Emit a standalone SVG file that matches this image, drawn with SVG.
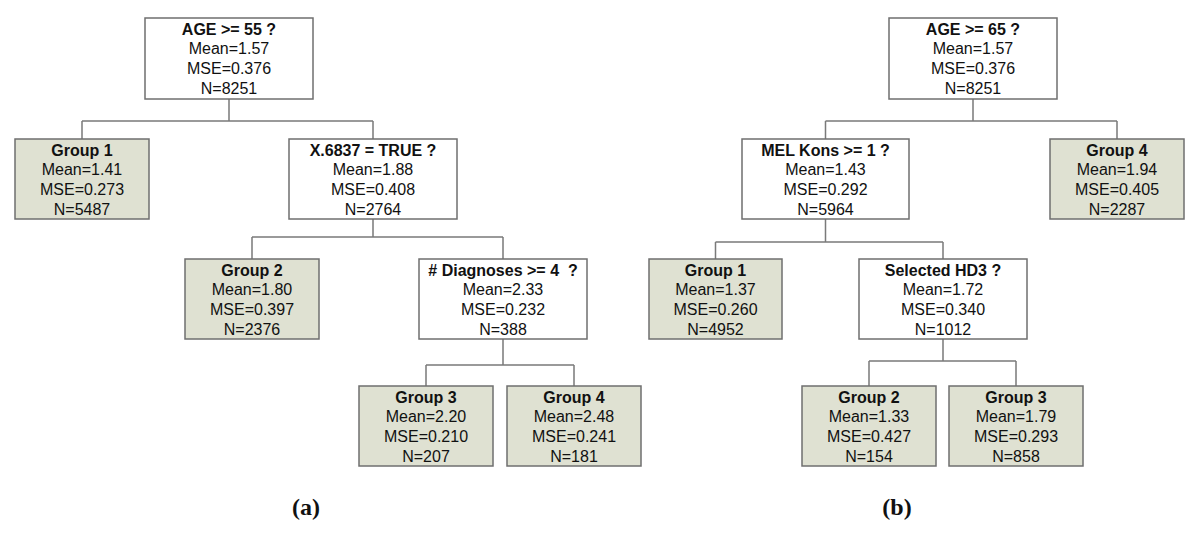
<svg xmlns="http://www.w3.org/2000/svg" width="1200" height="536" viewBox="0 0 1200 536">
<style>
  .box { fill: #ffffff; stroke: #6f6f6f; stroke-width: 1.5; }
  .leaf { fill: #dfe1d2; stroke: #6f6f6f; stroke-width: 1.5; }
  .conn { fill: none; stroke: #7a7a7a; stroke-width: 1.5; }
  text { font-family: "Liberation Sans", Arial, sans-serif; font-size: 16px; fill: #111111; text-anchor: middle; }
  .t { font-weight: bold; }
  .cap { font-family: "Liberation Serif", "Times New Roman", serif; font-size: 24px; font-weight: bold; }
</style>
<rect width="1200" height="536" fill="#ffffff"/>
<g id="connectors">
  <path class="conn" d="M229,99 V121 M82,121 H373 M82,121 V139 M373,121 V139"/>
  <path class="conn" d="M373,219 V237 M252,237 H503 M252,237 V259 M503,237 V259"/>
  <path class="conn" d="M503,339 V365 M426,365 H574 M426,365 V386 M574,365 V386"/>
  <path class="conn" d="M973,99 V121 M825.5,121 H1117 M825.5,121 V139 M1117,121 V139"/>
  <path class="conn" d="M825.5,219 V242 M715.5,242 H943 M715.5,242 V259 M943,242 V259"/>
  <path class="conn" d="M943,339 V361 M869,361 H1016 M869,361 V386 M1016,361 V386"/>
</g>
<g id="a-root">
  <rect class="box" x="145" y="18" width="168" height="81"/>
  <text class="t" x="229" y="34.5">AGE &gt;= 55 ?</text>
  <text x="229" y="54.3">Mean=1.57</text>
  <text x="229" y="74">MSE=0.376</text>
  <text x="229" y="93.8">N=8251</text>
</g>
<g id="a-group1">
  <rect class="leaf" x="15" y="139" width="134" height="80"/>
  <text class="t" x="82" y="155.5">Group 1</text>
  <text x="82" y="175.3">Mean=1.41</text>
  <text x="82" y="195">MSE=0.273</text>
  <text x="82" y="214.8">N=5487</text>
</g>
<g id="a-x6837">
  <rect class="box" x="289" y="139" width="168" height="80"/>
  <text class="t" x="373" y="155.5">X.6837 = TRUE ?</text>
  <text x="373" y="175.3">Mean=1.88</text>
  <text x="373" y="195">MSE=0.408</text>
  <text x="373" y="214.8">N=2764</text>
</g>
<g id="a-group2">
  <rect class="leaf" x="185" y="259" width="134" height="80"/>
  <text class="t" x="252" y="275.5">Group 2</text>
  <text x="252" y="295.3">Mean=1.80</text>
  <text x="252" y="315">MSE=0.397</text>
  <text x="252" y="334.8">N=2376</text>
</g>
<g id="a-diagnoses">
  <rect class="box" x="419" y="259" width="168" height="80"/>
  <text class="t" x="503" y="275.5" xml:space="preserve"># Diagnoses &gt;= 4  ?</text>
  <text x="503" y="295.3">Mean=2.33</text>
  <text x="503" y="315">MSE=0.232</text>
  <text x="503" y="334.8">N=388</text>
</g>
<g id="a-group3">
  <rect class="leaf" x="359" y="386" width="134" height="80"/>
  <text class="t" x="426" y="402.5">Group 3</text>
  <text x="426" y="422.3">Mean=2.20</text>
  <text x="426" y="442">MSE=0.210</text>
  <text x="426" y="461.8">N=207</text>
</g>
<g id="a-group4">
  <rect class="leaf" x="507" y="386" width="134" height="80"/>
  <text class="t" x="574" y="402.5">Group 4</text>
  <text x="574" y="422.3">Mean=2.48</text>
  <text x="574" y="442">MSE=0.241</text>
  <text x="574" y="461.8">N=181</text>
</g>
<g id="b-root">
  <rect class="box" x="889" y="18" width="168" height="81"/>
  <text class="t" x="973" y="34.5">AGE &gt;= 65 ?</text>
  <text x="973" y="54.3">Mean=1.57</text>
  <text x="973" y="74">MSE=0.376</text>
  <text x="973" y="93.8">N=8251</text>
</g>
<g id="b-melkons">
  <rect class="box" x="742" y="139" width="167" height="80"/>
  <text class="t" x="825.5" y="155.5">MEL Kons &gt;= 1 ?</text>
  <text x="825.5" y="175.3">Mean=1.43</text>
  <text x="825.5" y="195">MSE=0.292</text>
  <text x="825.5" y="214.8">N=5964</text>
</g>
<g id="b-group4">
  <rect class="leaf" x="1050" y="139" width="134" height="80"/>
  <text class="t" x="1117" y="155.5">Group 4</text>
  <text x="1117" y="175.3">Mean=1.94</text>
  <text x="1117" y="195">MSE=0.405</text>
  <text x="1117" y="214.8">N=2287</text>
</g>
<g id="b-group1">
  <rect class="leaf" x="649" y="259" width="133" height="80"/>
  <text class="t" x="715.5" y="275.5">Group 1</text>
  <text x="715.5" y="295.3">Mean=1.37</text>
  <text x="715.5" y="315">MSE=0.260</text>
  <text x="715.5" y="334.8">N=4952</text>
</g>
<g id="b-selected">
  <rect class="box" x="859" y="259" width="168" height="80"/>
  <text class="t" x="943" y="275.5">Selected HD3 ?</text>
  <text x="943" y="295.3">Mean=1.72</text>
  <text x="943" y="315">MSE=0.340</text>
  <text x="943" y="334.8">N=1012</text>
</g>
<g id="b-group2">
  <rect class="leaf" x="802" y="386" width="134" height="80"/>
  <text class="t" x="869" y="402.5">Group 2</text>
  <text x="869" y="422.3">Mean=1.33</text>
  <text x="869" y="442">MSE=0.427</text>
  <text x="869" y="461.8">N=154</text>
</g>
<g id="b-group3">
  <rect class="leaf" x="949" y="386" width="134" height="80"/>
  <text class="t" x="1016" y="402.5">Group 3</text>
  <text x="1016" y="422.3">Mean=1.79</text>
  <text x="1016" y="442">MSE=0.293</text>
  <text x="1016" y="461.8">N=858</text>
</g>
<g id="captions">
  <text class="cap" x="306" y="515">(a)</text>
  <text class="cap" x="897" y="515">(b)</text>
</g>
</svg>
